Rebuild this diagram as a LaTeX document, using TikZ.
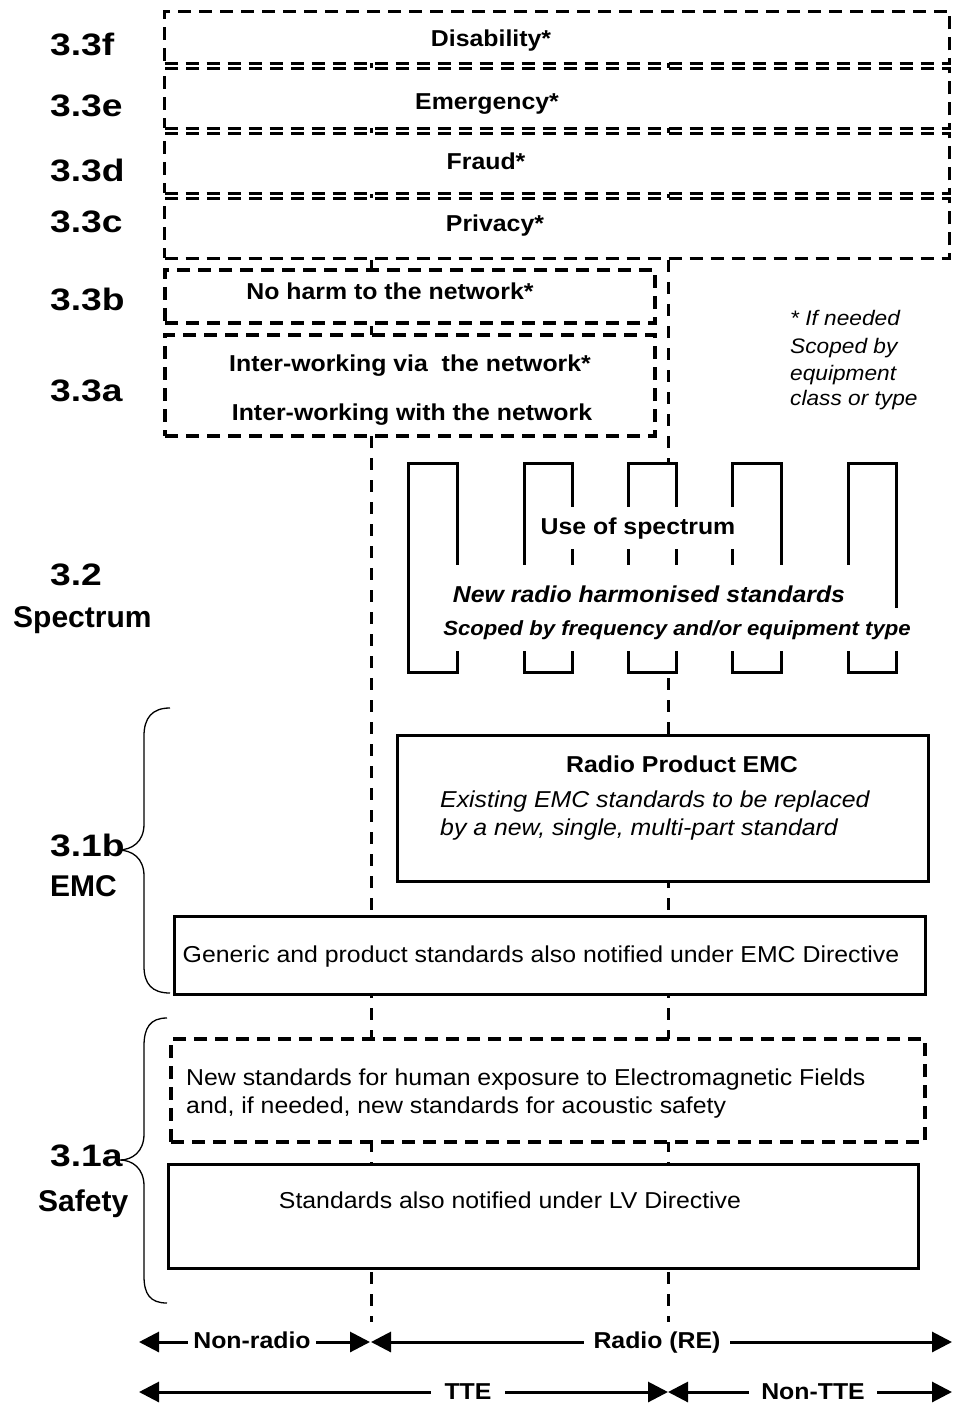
\documentclass[tikz,border=0pt]{standalone}
\usepackage{fontspec}
\setmainfont{Liberation Sans}[FakeStretch=1.08]
\newfontfamily\labelfont{Liberation Sans}
\newfontfamily\numfont{Liberation Sans}[FakeStretch=1.2]
\usetikzlibrary{arrows.meta}
\tikzset{
  numlbl/.style={font=\numfont\bfseries\fontsize{31}{31}\selectfont, anchor=base west, inner sep=0pt},
  wordlbl/.style={font=\labelfont\bfseries\fontsize{30}{30}\selectfont, anchor=base west, inner sep=0pt},
  txtreg/.style={font=\fontsize{23}{27}\selectfont, anchor=base, inner sep=0pt},
  txtbold/.style={font=\bfseries\fontsize{23}{27}\selectfont, anchor=base, inner sep=0pt},
  txtital/.style={font=\itshape\fontsize{23}{27}\selectfont, anchor=base west, inner sep=0pt},
  txtbi/.style={font=\bfseries\itshape\fontsize{23}{27}\selectfont, anchor=base, inner sep=0pt},
  note/.style={font=\itshape\fontsize{21}{25}\selectfont, anchor=base west, inner sep=0pt},
  dbox/.style={draw, line width=3pt, dash pattern=on 13pt off 8pt, fill=white, inner sep=0pt, anchor=north west},
  dboxthick/.style={dbox, line width=4pt},
  sbox/.style={draw, line width=3pt, fill=white, inner sep=0pt, anchor=north west},
  tooth/.style={draw, line width=3pt, fill=white},
  vline/.style={line width=3pt, dash pattern=on 12pt off 10pt},
  arr/.style={line width=3pt, {Triangle[length=20pt,width=20pt]}-{Triangle[length=20pt,width=20pt]}},
  bracepath/.style={line width=1.3pt},
  wbg/.style={fill=white}
}
\begin{document}
\begin{tikzpicture}[x=1pt,y=-1pt]
\fill[white] (0,0) rectangle (953,1404);
\useasboundingbox (0,0) rectangle (953,1404);

% vertical dashed lines (drawn first, boxes cover them)
\coordinate (v1top) at (371,62);
\coordinate (v1bot) at (371,1322);
\coordinate (v2top) at (668,62);
\coordinate (v2bot) at (668,1322);
\draw[vline] (v1top) -- (v1bot);
\draw[vline] (v2top) -- (v2bot);

% 3.3 boxes
\node[dbox, minimum width=785pt, minimum height=52pt] (bf) at (163,10) {};
\node[dbox, minimum width=785pt, minimum height=60pt] (be) at (163,67) {};
\node[dbox, minimum width=785pt, minimum height=60pt] (bd) at (163,132) {};
\node[dbox, minimum width=785pt, minimum height=60pt] (bc) at (163,197) {};
\node[dboxthick, minimum width=490pt, minimum height=53pt] (bb) at (163,268) {};
\node[dboxthick, minimum width=490pt, minimum height=101pt] (ba) at (163,333) {};

\node[txtbold] (tf) at (491,47) {Disability*};
\node[txtbold] (te) at (487,110) {Emergency*};
\node[txtbold] (td) at (486,170) {Fraud*};
\node[txtbold] (tc) at (495,232) {Privacy*};
\node[txtbold] (tb) at (390,300) {No harm to the network*};
\node[txtbold] (ta1) at (410,371) {Inter-working via~~the network*};
\node[txtbold] (ta2) at (412,420) {Inter-working with the network};

% footnote
\node[note] (n1) at (790,325) {* If needed};
\node[note] (n2) at (790,353) {Scoped by};
\node[note] (n3) at (790,380) {equipment};
\node[note] (n4) at (790,405) {class or type};

% spectrum comb
\draw[tooth] (408,463) rectangle (457,672);
\draw[tooth] (524,463) rectangle (572,672);
\draw[tooth] (628,463) rectangle (676,672);
\draw[tooth] (732,463) rectangle (781,672);
\draw[tooth] (848,463) rectangle (896,672);
\node[txtbold, wbg, inner xsep=10pt, inner ysep=10pt] (use) at (638,534) {Use of spectrum};
\node[txtbi, wbg, inner xsep=10pt, inner ysep=20pt] (newr) at (649,602) {New radio harmonised standards};
\node[txtbi, wbg, font=\bfseries\itshape\fontsize{20.5}{24}\selectfont, inner xsep=8pt, inner ysep=12pt] (scop) at (677,635) {Scoped by frequency and/or equipment type};

% EMC
\node[sbox, minimum width=531pt, minimum height=146pt] (remc) at (396,734) {};
\node[txtbold] (remct) at (682,772) {Radio Product EMC};
\node[txtital] (remc1) at (440,807) {Existing EMC standards to be replaced};
\node[txtital] (remc2) at (440,835) {by a new, single, multi-part standard};
\node[sbox, minimum width=751pt, minimum height=78pt] (gen) at (173,915) {};
\node[txtreg] (gent) at (541,962) {Generic and product standards also notified under EMC Directive};

% Safety
\node[dboxthick, minimum width=754pt, minimum height=103pt] (emf) at (169,1037) {};
\node[txtital, font=\fontsize{23}{27}\selectfont] (emf1) at (186,1085) {New standards for human exposure to Electromagnetic Fields};
\node[txtital, font=\fontsize{23}{27}\selectfont] (emf2) at (186,1113) {and, if needed, new standards for acoustic safety};
\node[sbox, minimum width=750pt, minimum height=104pt] (lv) at (167,1163) {};
\node[txtreg] (lvt) at (510,1208) {Standards also notified under LV Directive};

% section labels
\node[numlbl] (l3f) at (50,56) {3.3f};
\node[numlbl] (l3e) at (50,117) {3.3e};
\node[numlbl] (l3d) at (50,182) {3.3d};
\node[numlbl] (l3c) at (50,233) {3.3c};
\node[numlbl] (l3b) at (50,311) {3.3b};
\node[numlbl] (l3a) at (50,401) {3.3a};
\node[numlbl] (l32) at (50,585) {3.2};
\node[wordlbl] (lspec) at (13,627) {Spectrum};
\node[numlbl] (l31b) at (50,856) {3.1b};
\node[wordlbl] (lemc) at (50,896) {EMC};
\node[numlbl] (l31a) at (50,1166) {3.1a};
\node[wordlbl] (lsaf) at (38,1211) {Safety};

% braces
\draw[bracepath] (170,708) .. controls (152,708) and (144,718) .. (144,736) -- (144,824)
  .. controls (144,842) and (132,850) .. (118,850)
  .. controls (132,850) and (144,858) .. (144,876) -- (144,966)
  .. controls (144,984) and (152,993) .. (170,993);
\draw[bracepath] (167,1018) .. controls (150,1018) and (144,1028) .. (144,1046) -- (144,1134)
  .. controls (144,1152) and (132,1160) .. (120,1160)
  .. controls (132,1160) and (144,1168) .. (144,1186) -- (144,1276)
  .. controls (144,1294) and (150,1303) .. (167,1303);

% bottom arrows
\coordinate (a1l) at (139,1342);
\coordinate (a1r) at (370,1342);
\coordinate (a2l) at (371,1342);
\coordinate (a2r) at (952,1342);
\coordinate (b1l) at (139,1392);
\coordinate (b1r) at (668,1392);
\coordinate (b2l) at (668,1392);
\coordinate (b2r) at (952,1392);
\draw[arr] (a1l) -- (a1r);
\draw[arr] (a2l) -- (a2r);
\draw[arr] (b1l) -- (b1r);
\draw[arr] (b2l) -- (b2r);
\node[txtbold, wbg, inner xsep=5pt, inner ysep=1pt] (nr) at (252,1348) {Non-radio};
\node[txtbold, wbg, inner xsep=10pt, inner ysep=1pt] (rr) at (657,1348) {Radio (RE)};
\node[txtbold, wbg, inner xsep=14pt, inner ysep=0pt] (tte) at (468,1399) {TTE};
\node[txtbold, wbg, inner xsep=12pt, inner ysep=0pt] (ntte) at (813,1399) {Non-TTE};
\end{tikzpicture}
\end{document}
